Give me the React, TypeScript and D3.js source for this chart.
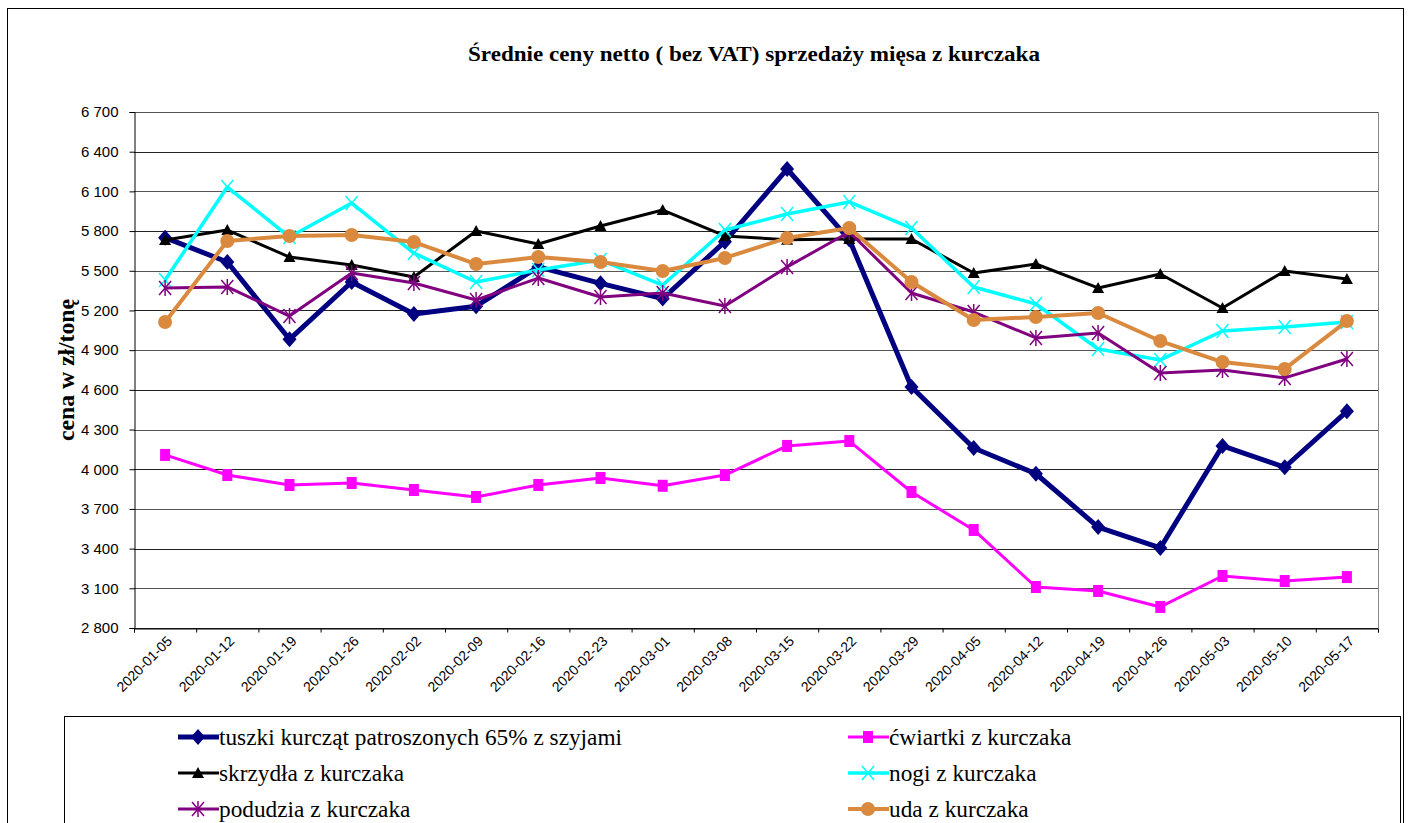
import * as d3 from "d3";
import { useRef, useEffect } from "react";

const dates = [
  "2020-01-05", "2020-01-12", "2020-01-19", "2020-01-26", "2020-02-02",
  "2020-02-09", "2020-02-16", "2020-02-23", "2020-03-01", "2020-03-08",
  "2020-03-15", "2020-03-22", "2020-03-29", "2020-04-05", "2020-04-12",
  "2020-04-19", "2020-04-26", "2020-05-03", "2020-05-10", "2020-05-17",
];

const tuszki = [5750, 5566, 4982, 5415, 5173, 5232, 5529, 5405, 5290, 5720, 6269, 5736, 4622, 4160, 3966, 3563, 3405, 4176, 4015, 4438];
const cwiartki = [4108, 3956, 3881, 3896, 3843, 3790, 3881, 3934, 3875, 3956, 4176, 4213, 3828, 3541, 3110, 3080, 2959, 3193, 3155, 3185];
const skrzydla = [5733, 5808, 5604, 5544, 5453, 5801, 5702, 5838, 5959, 5763, 5735, 5740, 5740, 5483, 5551, 5370, 5476, 5219, 5498, 5438];
const nogi = [5430, 6133, 5755, 6012, 5634, 5415, 5506, 5581, 5392, 5808, 5929, 6020, 5823, 5377, 5249, 4909, 4826, 5045, 5075, 5113];
const podudzia = [5370, 5378, 5158, 5483, 5408, 5279, 5445, 5302, 5332, 5234, 5529, 5793, 5332, 5188, 4992, 5030, 4727, 4750, 4690, 4833];
const uda = [5113, 5725, 5763, 5770, 5717, 5551, 5604, 5566, 5498, 5597, 5748, 5823, 5415, 5128, 5151, 5181, 4969, 4810, 4758, 5120];

const yTicks = [2800, 3100, 3400, 3700, 4000, 4300, 4600, 4900, 5200, 5500, 5800, 6100, 6400, 6700];

type Series = { name: string; values: number[]; color: string; width: number; marker: string };

const series: Series[] = [
  { name: "tuszki kurcząt patroszonych 65% z szyjami", values: tuszki, color: "#000080", width: 5, marker: "diamond" },
  { name: "ćwiartki z kurczaka", values: cwiartki, color: "#FF00FF", width: 3, marker: "square" },
  { name: "skrzydła z kurczaka", values: skrzydla, color: "#000000", width: 3, marker: "triangle" },
  { name: "nogi z kurczaka", values: nogi, color: "#00FFFF", width: 3.5, marker: "x" },
  { name: "podudzia z kurczaka", values: podudzia, color: "#800080", width: 3, marker: "star" },
  { name: "uda z kurczaka", values: uda, color: "#DA8A3E", width: 4, marker: "circle" },
];

function drawMarker(g: any, kind: string, x: number, y: number, color: string) {
  if (kind === "diamond") {
    g.append("path").attr("d", `M${x},${y - 8}L${x + 7},${y}L${x},${y + 8}L${x - 7},${y}Z`).attr("fill", color);
  } else if (kind === "square") {
    g.append("rect").attr("x", x - 5).attr("y", y - 6).attr("width", 10).attr("height", 12).attr("fill", color);
  } else if (kind === "triangle") {
    g.append("path").attr("d", `M${x},${y - 6}L${x + 6},${y + 5}L${x - 6},${y + 5}Z`).attr("fill", color);
  } else if (kind === "circle") {
    g.append("circle").attr("cx", x).attr("cy", y).attr("r", 7).attr("fill", color);
  } else if (kind === "x") {
    g.append("path").attr("d", `M${x - 6},${y - 7}L${x + 6},${y + 7}M${x + 6},${y - 7}L${x - 6},${y + 7}`)
      .attr("stroke", color).attr("stroke-width", 1.5).attr("fill", "none");
  } else if (kind === "star") {
    g.append("path").attr("d", `M${x - 6},${y - 7}L${x + 6},${y + 7}M${x + 6},${y - 7}L${x - 6},${y + 7}M${x},${y - 8}L${x},${y + 8}`)
      .attr("stroke", color).attr("stroke-width", 1.5).attr("fill", "none");
  }
}

export default function App() {
  const svgRef = useRef(null);

  useEffect(() => {
    const width = 1411;
    const height = 823;
    const svg = d3.select(svgRef.current);
    svg.selectAll("*").remove();

    const x = d3.scaleBand().domain(dates).range([134, 1378]).padding(0);
    const y = d3.scaleLinear().domain([2800, 6700]).range([628, 112]);

    // outer chart frame
    svg.append("rect").attr("x", 7.5).attr("y", 8.5).attr("width", 1396).attr("height", 830)
      .attr("fill", "#fff").attr("stroke", "#000").attr("stroke-width", 1);

    svg.append("text").attr("x", 754).attr("y", 61).attr("text-anchor", "middle")
      .attr("font-family", "Liberation Serif").attr("font-weight", "bold").attr("font-size", 20)
      .attr("textLength", 572).attr("lengthAdjust", "spacingAndGlyphs")
      .text("Średnie ceny netto ( bez VAT) sprzedaży mięsa z kurczaka");

    // gridlines
    svg.append("g").selectAll("line").data(yTicks).enter().append("line")
      .attr("x1", 134).attr("x2", 1378)
      .attr("y1", (d) => Math.round(y(d)) + 0.5).attr("y2", (d) => Math.round(y(d)) + 0.5)
      .attr("stroke", (d, i) => (i % 2 ? "#555" : "#222")).attr("stroke-width", 1);
    svg.append("line").attr("x1", 1378.5).attr("x2", 1378.5).attr("y1", 112).attr("y2", 628)
      .attr("stroke", "#888");

    // y axis
    const yAxis = d3.axisLeft(y).tickValues(yTicks).tickSize(5).tickPadding(11)
      .tickFormat((d: any) => d3.format(",")(d).replace(",", " "));
    const yg = svg.append("g").attr("transform", "translate(134.5,0)").call(yAxis);
    yg.select(".domain").attr("stroke", "#000");
    yg.selectAll("text").attr("font-family", "Liberation Sans").attr("font-size", 15).attr("fill", "#000");

    // x axis
    const xAxis = d3.axisBottom(x).tickSize(4).tickFormat(() => "");
    const xg = svg.append("g").attr("transform", "translate(0,628.5)").call(xAxis);
    xg.selectAll(".tick").remove();
    xg.selectAll("line.t").data([...dates.map((d) => x(d) as number), 1378]).enter().append("line")
      .attr("x1", (d) => d + 0.5).attr("x2", (d) => d + 0.5).attr("y1", 0).attr("y2", 4).attr("stroke", "#000");
    xg.select(".domain").attr("stroke", "#000");

    svg.append("g").selectAll("text").data(dates).enter().append("text")
      .attr("transform", (d) => `translate(${(x(d) as number) + x.bandwidth() / 2 + 8},${642}) rotate(-45)`)
      .attr("text-anchor", "end").attr("font-family", "Liberation Sans").attr("font-size", 14)
      .text((d) => d);

    svg.append("text").attr("transform", "translate(74,370) rotate(-90)").attr("text-anchor", "middle")
      .attr("font-family", "Liberation Serif").attr("font-weight", "bold").attr("font-size", 23)
      .attr("textLength", 142).attr("lengthAdjust", "spacingAndGlyphs")
      .text("cena w zł/tonę");

    // lines
    const line = d3.line<number>()
      .x((_, i) => (x(dates[i]) as number) + x.bandwidth() / 2)
      .y((d) => y(d));

    series.forEach((s) => {
      const g = svg.append("g");
      g.append("path").attr("d", line(s.values)).attr("fill", "none")
        .attr("stroke", s.color).attr("stroke-width", s.width).attr("stroke-linejoin", "round");
      s.values.forEach((v, i) => {
        drawMarker(g, s.marker, (x(dates[i]) as number) + x.bandwidth() / 2, y(v), s.color);
      });
    });

    // legend
    svg.append("rect").attr("x", 64.5).attr("y", 716.5).attr("width", 1336).attr("height", 120)
      .attr("fill", "#fff").attr("stroke", "#000");
    series.forEach((s, i) => {
      const col = i % 2;
      const row = Math.floor(i / 2);
      const lx = col === 0 ? 178 : 848;
      const ly = 737 + row * 36;
      const g = svg.append("g");
      g.append("line").attr("x1", lx).attr("x2", lx + 41).attr("y1", ly).attr("y2", ly)
        .attr("stroke", s.color).attr("stroke-width", s.width);
      drawMarker(g, s.marker, lx + 20, ly, s.color);
      g.append("text").attr("x", lx + 41).attr("y", ly + 8).attr("font-family", "Liberation Serif")
        .attr("font-size", 23.3).text(s.name);
    });

    svg.attr("width", width).attr("height", height);
  }, []);

  return (
    <div style={{ position: "absolute", left: 0, top: 0 }}>
      <svg ref={svgRef} style={{ display: "block" }} />
    </div>
  );
}
